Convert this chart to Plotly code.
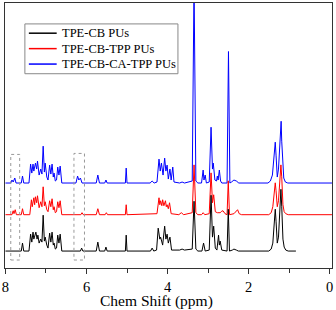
import plotly.graph_objects as go

# ---- data ----
# 1H NMR spectra: vertices as (chemical shift in ppm, intensity in arbitrary units)
series_names = ["TPE-CB PUs", "TPE-CB-TPP PUs", "TPE-CB-CA-TPP PUs"]
series_colors = ["#000000", "#FF0000", "#0000FF"]
series_offsets = [17, 53.5, 85.3]   # vertical stacking of the spectra

black_spectrum = [
    (8.00, 0), (7.61, 0), (7.58, 8), (7.55, 0),
    (7.42, 0), (7.38, 17), (7.35, 9), (7.32, 19), (7.30, 12), (7.28, 15), (7.25, 19),
    (7.22, 12), (7.20, 16), (7.17, 8), (7.13, 12), (7.10, 9), (7.07, 36), (7.04, 10),
    (7.02, 14), (6.98, 6), (6.95, 3), (6.91, 18), (6.88, 9), (6.85, 19), (6.82, 6),
    (6.80, 8), (6.77, 2), (6.74, 3), (6.71, 16), (6.68, 8), (6.65, 17), (6.61, 0),
    (6.15, 0), (6.12, 3), (6.09, 0),
    (5.76, 0), (5.72, 9), (5.68, 0),
    (5.55, 0), (5.52, 4), (5.49, 0),
    (5.04, 0), (5.02, 16), (5.00, 0),
    (4.42, 0), (4.38, 3), (4.34, 0),
    (4.27, 1), (4.23, 23), (4.19, 12), (4.17, 14), (4.12, 6), (4.07, 25), (4.04, 12),
    (4.01, 17), (3.98, 8), (3.94, 14), (3.90, 1),
    (3.70, 1), (3.64, 2), (3.58, 1),
    (3.39, 2), (3.345, 50), (3.30, 2), (3.25, 0),
    (3.15, 0), (3.11, 8), (3.07, 0),
    (2.97, 1), (2.925, 56), (2.89, 14), (2.86, 25), (2.82, 3), (2.78, 1), (2.74, 16),
    (2.72, 6), (2.70, 10), (2.66, 1),
    (2.53, 0), (2.50, 42), (2.47, 0),
    (2.40, 1), (2.36, 2), (2.30, 1), (2.25, 0),
    (1.50, 0), (1.44, 2), (1.40, 8), (1.37, 25), (1.34, 42), (1.32, 30), (1.29, 8),
    (1.26, 14), (1.23, 40), (1.20, 62), (1.18, 45), (1.15, 12), (1.12, 4), (1.08, 1),
    (1.02, 0), (0.83, 0),
]

red_spectrum = [
    (8.00, 0), (7.84, 0), (7.81, 4), (7.79, 1), (7.76, 5), (7.73, 0),
    (7.61, 0), (7.58, 6), (7.55, 0),
    (7.40, 0), (7.36, 15), (7.34, 8), (7.30, 17), (7.28, 10), (7.26, 18), (7.23, 12),
    (7.21, 19), (7.17, 7), (7.13, 13), (7.10, 8), (7.07, 28), (7.04, 9), (7.02, 13),
    (6.98, 5), (6.95, 3), (6.91, 14), (6.88, 8), (6.85, 16), (6.82, 5), (6.80, 8),
    (6.77, 2), (6.74, 3), (6.71, 13), (6.68, 7), (6.65, 14), (6.61, 0),
    (6.14, 0), (6.11, 2), (6.08, 0),
    (5.76, 0), (5.72, 6), (5.68, 0),
    (5.54, 0), (5.51, 2), (5.48, 0),
    (5.04, 0), (5.02, 10), (5.00, 0),
    (4.26, 1), (4.21, 17), (4.19, 10), (4.17, 14), (4.14, 9), (4.12, 15), (4.09, 9),
    (4.05, 14), (4.03, 8), (4.01, 10), (3.98, 6), (3.95, 12), (3.91, 1),
    (3.72, 0), (3.66, 2), (3.60, 0),
    (3.39, 2), (3.345, 50), (3.30, 2), (3.25, 0),
    (3.16, 0), (3.12, 2), (3.08, 0),
    (2.97, 1), (2.925, 42), (2.89, 12), (2.86, 20), (2.82, 3), (2.77, 2), (2.70, 2),
    (2.66, 3.5), (2.63, 4), (2.58, 1), (2.53, 0), (2.50, 34), (2.47, 0),
    (2.36, 1), (2.31, 3), (2.27, 5), (2.23, 1), (2.17, 0),
    (1.50, 0), (1.44, 2), (1.40, 8), (1.37, 20), (1.34, 32), (1.32, 24), (1.29, 8),
    (1.26, 14), (1.23, 34), (1.20, 50), (1.18, 38), (1.15, 10), (1.12, 3), (1.08, 1),
    (1.02, 0), (-0.06, 0),
]

blue_spectrum = [
    (8.00, 0), (7.87, 0), (7.84, 3), (7.81, 1), (7.77, 5), (7.74, 0),
    (7.61, 0), (7.58, 7), (7.55, 0),
    (7.42, 0), (7.38, 19), (7.35, 10), (7.32, 19), (7.30, 12), (7.26, 20), (7.23, 14),
    (7.21, 22), (7.17, 8), (7.13, 14), (7.10, 9), (7.07, 37), (7.04, 11), (7.02, 20),
    (6.98, 6), (6.95, 3), (6.91, 18), (6.88, 9), (6.85, 19), (6.82, 6), (6.80, 10),
    (6.77, 2), (6.74, 3), (6.71, 16), (6.68, 8), (6.65, 17), (6.61, 0),
    (6.26, 0), (6.22, 7), (6.19, 3), (6.15, 5), (6.11, 0),
    (5.76, 0), (5.72, 8), (5.68, 0),
    (5.55, 0), (5.52, 3), (5.49, 0),
    (5.04, 0), (5.02, 15), (5.00, 0),
    (4.43, 0), (4.38, 2), (4.33, 0),
    (4.26, 1), (4.21, 24), (4.18, 12), (4.15, 20), (4.11, 8), (4.07, 25), (4.04, 12),
    (4.01, 18), (3.98, 4), (3.94, 14), (3.91, 3), (3.87, 16), (3.84, 1),
    (3.70, 0), (3.64, 1), (3.58, 0),
    (3.39, 2), (3.345, 200), (3.30, 2), (3.25, 0),
    (3.16, 0), (3.12, 13), (3.10, 3), (3.07, 8), (3.04, 0),
    (2.97, 1), (2.925, 56), (2.89, 14), (2.87, 20), (2.83, 3), (2.79, 2), (2.77, 7),
    (2.75, 3), (2.72, 13), (2.69, 2), (2.66, 0),
    (2.53, 0), (2.495, 132), (2.46, 0),
    (2.42, 1), (2.36, 3), (2.30, 2), (2.24, 0),
    (1.52, 0), (1.46, 2), (1.41, 8), (1.37, 25), (1.34, 41), (1.32, 28), (1.29, 6),
    (1.26, 14), (1.23, 40), (1.195, 62), (1.18, 42), (1.16, 20), (1.13, 5), (1.09, 1),
    (1.03, 0), (-0.06, 0),
]

# dotted highlight boxes: (ppm_from, ppm_to, intensity_from, intensity_to)
highlight_boxes = [(7.87, 7.65, 8, 114), (6.31, 6.05, 8, 115)]

x_tick_values = [0, 2, 4, 6, 8]
x_title = "Chem Shift (ppm)"

spectra = [black_spectrum, red_spectrum, blue_spectrum]

# ---- figure ----
FONT = "Liberation Serif, Times New Roman, serif"
W, H = 336, 310
ML, MR, MT, MB = 3, 4, 2, 42
PW, PH = W - ML - MR, H - MT - MB

def px_x(x):  # pixel -> paper
    return (x - ML) / PW

def px_y(y):
    return (H - MB - y) / PH

fig = go.Figure()

# draw blue first, then red, then black on top
for idx in [2, 1, 0]:
    pts = spectra[idx]
    fig.add_trace(go.Scatter(
        x=[p for p, _ in pts],
        y=[v + series_offsets[idx] for _, v in pts],
        mode="lines",
        name=series_names[idx],
        line=dict(color=series_colors[idx], width=1),
        hoverinfo="skip",
        showlegend=False,
    ))

for x0, x1, y0, y1 in highlight_boxes:
    fig.add_shape(type="rect", x0=x0, x1=x1, y0=y0, y1=y1, xref="x", yref="y",
                  line=dict(color="#999999", width=1, dash="dot"))

# legend box (drawn as layout decoration to match the compact original legend)
LEG_L, LEG_R, LEG_T, LEG_B = 23, 177, 23, 73
LEG_ROW0, LEG_PITCH = 32.3, 15.5
fig.add_shape(type="rect", xref="paper", yref="paper",
              x0=px_x(LEG_L), x1=px_x(LEG_R), y0=px_y(LEG_B), y1=px_y(LEG_T),
              line=dict(color="#888888", width=1), fillcolor="white", layer="above")
for i, (name, color) in enumerate(zip(series_names, series_colors)):
    yy = px_y(LEG_ROW0 + i * LEG_PITCH)
    fig.add_shape(type="line", xref="paper", yref="paper",
                  x0=px_x(27), x1=px_x(55), y0=yy, y1=yy,
                  line=dict(color=color, width=1.5), layer="above")
    fig.add_annotation(xref="paper", yref="paper", x=px_x(58), y=yy,
                       xanchor="left", yanchor="middle", showarrow=False,
                       text=name, font=dict(family=FONT, size=12.5, color="#000000"))

# x-axis title (placed as in the original, slightly left of the axis centre)
fig.add_annotation(xref="paper", yref="paper", x=px_x(155.5), y=px_y(301),
                   xanchor="center", yanchor="middle", showarrow=False,
                   text=x_title, font=dict(family=FONT, size=15.5, color="#000000"))

fig.update_layout(
    width=W, height=H,
    margin=dict(l=ML, r=MR, t=MT, b=MB),
    paper_bgcolor="white", plot_bgcolor="white",
    font=dict(family=FONT, color="#000000"),
    showlegend=False,
    xaxis=dict(
        range=[8.012, -0.061],
        tickvals=x_tick_values,
        ticks="outside", ticklen=5, tickwidth=1, tickcolor="#333333",
        minor=dict(dtick=1, ticks="outside", ticklen=4, tickwidth=1, tickcolor="#333333"),
        showline=True, linecolor="#333333", linewidth=1.3, mirror=True,
        showgrid=False, zeroline=False,
        ticklabeloverflow="allow",
        tickfont=dict(family=FONT, size=14.5, color="#000000"),
    ),
    yaxis=dict(
        range=[0, 266],
        showticklabels=False, ticks="",
        showline=True, linecolor="#333333", linewidth=1.3, mirror=True,
        showgrid=False, zeroline=False,
    ),
)

fig.write_html(
    "out.html",
    config={"displayModeBar": False},
    post_script="document.body.style.margin='0';document.body.style.padding='0';",
)
